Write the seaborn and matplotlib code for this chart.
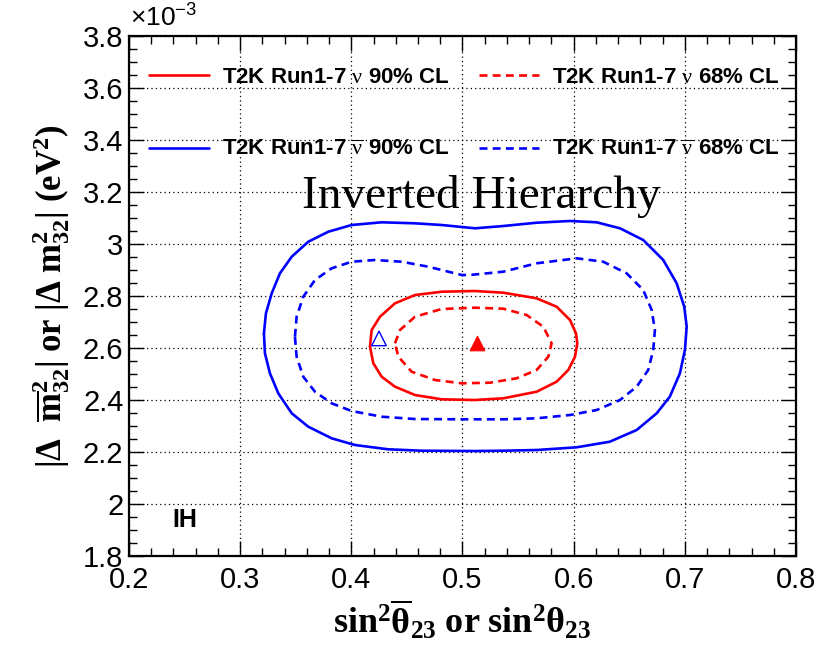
import numpy as np
import pandas as pd
import matplotlib
matplotlib.use("Agg")
import matplotlib.pyplot as plt
from matplotlib.ticker import MultipleLocator, FormatStrFormatter
from matplotlib.lines import Line2D
import seaborn as sns

# contours: x = sin^2(theta23), y = |dm2_32| in 1e-3 eV^2
nubar90_x = [0.3214, 0.3232, 0.3284, 0.3358, 0.3464, 0.3613, 0.3793, 0.4003, 0.4273, 0.4573,
             0.4813, 0.5112, 0.5367, 0.5667, 0.5967, 0.6207, 0.6417, 0.6626, 0.6806, 0.6927,
             0.6995, 0.7017, 0.7001, 0.6956, 0.6865, 0.6747, 0.6567, 0.6325, 0.6027, 0.5667,
             0.5367, 0.5112, 0.4633, 0.4332, 0.4033, 0.3823, 0.3613, 0.3464, 0.3343, 0.3268,
             0.3223]
nubar90_y = [2.6565, 2.7335, 2.8104, 2.8873, 2.9512, 3.0088, 3.0473, 3.0731, 3.0835, 3.0796,
             3.0731, 3.0604, 3.0692, 3.0819, 3.0885, 3.0835, 3.0604, 3.0154, 2.9385, 2.8488,
             2.7588, 2.6819, 2.5923, 2.5027, 2.4127, 2.3488, 2.2846, 2.2396, 2.2181, 2.2077,
             2.2050, 2.2038, 2.2050, 2.2104, 2.2269, 2.2527, 2.2973, 2.3488, 2.4258, 2.5027,
             2.5796]

nubar68_x = [0.3493, 0.3508, 0.3568, 0.3673, 0.3823, 0.4003, 0.4213, 0.4453, 0.4692, 0.4993,
             0.5067, 0.5367, 0.5667, 0.6027, 0.6266, 0.6477, 0.6626, 0.6702, 0.6731, 0.6716,
             0.6671, 0.6567, 0.6417, 0.6207, 0.5967, 0.5667, 0.5367, 0.4993, 0.4573, 0.4273,
             0.4003, 0.3823, 0.3673, 0.3568, 0.3508]
nubar68_y = [2.6435, 2.7204, 2.7973, 2.8615, 2.9065, 2.9319, 2.9385, 2.9319, 2.9127, 2.8808,
             2.8808, 2.8935, 2.9258, 2.9450, 2.9319, 2.8873, 2.8231, 2.7462, 2.6692, 2.5923,
             2.5154, 2.4512, 2.4000, 2.3615, 2.3423, 2.3296, 2.3258, 2.3258, 2.3269, 2.3358,
             2.3577, 2.3873, 2.4319, 2.4896, 2.5665]

nu90_x = [0.4168, 0.4183, 0.4258, 0.4393, 0.4573, 0.4813, 0.5112, 0.5367, 0.5667, 0.5847,
          0.5967, 0.6021, 0.6033, 0.6012, 0.5952, 0.5847, 0.5667, 0.5367, 0.5112, 0.4813,
          0.4573, 0.4393, 0.4273, 0.4198]
nu90_y = [2.6050, 2.6692, 2.7204, 2.7719, 2.8038, 2.8165, 2.8192, 2.8127, 2.7912, 2.7588,
          2.7077, 2.6565, 2.6181, 2.5665, 2.5154, 2.4704, 2.4319, 2.4065, 2.4000, 2.4027,
          2.4192, 2.4512, 2.4896, 2.5412]

nu68_x = [0.4393, 0.4438, 0.4573, 0.4813, 0.5112, 0.5367, 0.5577, 0.5727, 0.5802, 0.5772,
          0.5667, 0.5487, 0.5247, 0.4993, 0.4753, 0.4543, 0.4423]
nu68_y = [2.6181, 2.6692, 2.7204, 2.7500, 2.7550, 2.7512, 2.7269, 2.6819, 2.6181, 2.5665,
          2.5154, 2.4835, 2.4665, 2.4642, 2.4769, 2.5088, 2.5665]

# best fit points
bf_nu = (0.5128, 2.620)
bf_nubar = (0.4249, 2.637)

legend_labels = [r"T2K Run1-7 $\mathrm{\nu}$ 90% CL",
                 r"T2K Run1-7 $\mathrm{\nu}$ 68% CL",
                 r"T2K Run1-7 $\mathrm{\overline{\nu}}$ 90% CL",
                 r"T2K Run1-7 $\mathrm{\overline{\nu}}$ 68% CL"]

sns.set_style("ticks")
plt.rcParams['font.family'] = ['Liberation Sans', 'DejaVu Sans']
plt.rcParams['mathtext.fontset'] = 'custom'
plt.rcParams['mathtext.rm'] = 'Liberation Serif'
plt.rcParams['mathtext.it'] = 'Liberation Serif:italic'
plt.rcParams['mathtext.bf'] = 'Liberation Serif:bold'
plt.rcParams['mathtext.sf'] = 'Liberation Sans'
for k in ['text.color', 'axes.labelcolor', 'xtick.color', 'ytick.color', 'axes.edgecolor']:
    plt.rcParams[k] = 'black'


def closed(xs, ys):
    return pd.DataFrame({"x": list(xs) + [xs[0]], "y": list(ys) + [ys[0]]})


fig = plt.figure(figsize=(8.3, 6.5), dpi=100)
ax = fig.add_axes([0.1554, 0.1446, 0.8036, 0.8])

dash = (0, (3, 2))
lw = 1.9
sns.lineplot(data=closed(nubar90_x, nubar90_y), x="x", y="y", sort=False, estimator=None,
             color="blue", linewidth=lw, ax=ax)
sns.lineplot(data=closed(nubar68_x, nubar68_y), x="x", y="y", sort=False, estimator=None,
             color="blue", linewidth=lw, linestyle=dash, ax=ax)
sns.lineplot(data=closed(nu90_x, nu90_y), x="x", y="y", sort=False, estimator=None,
             color="red", linewidth=lw, ax=ax)
sns.lineplot(data=closed(nu68_x, nu68_y), x="x", y="y", sort=False, estimator=None,
             color="red", linewidth=lw, linestyle=dash, ax=ax)

sns.scatterplot(x=[bf_nu[0]], y=[bf_nu[1]], marker="^", color="red", s=110,
                edgecolor="red", linewidth=0.8, ax=ax, zorder=5)
sns.scatterplot(x=[bf_nubar[0]], y=[bf_nubar[1]], marker="^", facecolor="none",
                edgecolor="blue", s=110, linewidth=1.0, ax=ax, zorder=5)

ax.set_xlim(0.2, 0.8)
ax.set_ylim(1.8, 3.8)
ax.xaxis.set_major_locator(MultipleLocator(0.1))
ax.xaxis.set_minor_locator(MultipleLocator(0.02))
ax.yaxis.set_major_locator(MultipleLocator(0.2))
ax.yaxis.set_minor_locator(MultipleLocator(0.05))
ax.xaxis.set_major_formatter(FormatStrFormatter('%g'))
ax.yaxis.set_major_formatter(FormatStrFormatter('%g'))
ax.tick_params(which='both', direction='in', top=True, right=True, colors='black')
ax.tick_params(which='major', length=11, width=1.0, labelsize=21)
ax.tick_params(which='minor', length=6, width=1.0)
ax.tick_params(axis='x', which='major', pad=7)
ax.tick_params(axis='y', which='major', pad=4)
for sp in ax.spines.values():
    sp.set_visible(True)
    sp.set_linewidth(1.6)
    sp.set_color('black')
ax.grid(True, which='major', linestyle=(0, (1, 2.5)), color='black', linewidth=0.9)
ax.set_axisbelow(True)

ax.set_xlabel(r"$\mathbf{sin^2\overline{\theta}_{23}\ or\ sin^2\theta_{23}}$", fontsize=26, labelpad=4)
ax.set_ylabel(r"$\mathbf{|\Delta\ \ \overline{m}^2_{32}|\ or\ |\Delta\ m^2_{32}|\ (eV^2)}$",
              fontsize=25, labelpad=8)

fig.text(130 / 830, 1 - 18 / 650, r"$\mathsf{\times10^{-3}}$", fontsize=19, ha='left', va='center')

ax.text(0.5166, 3.181, "Inverted Hierarchy", family='Liberation Serif', fontsize=34,
        ha='center', va='center')
ax.text(0.25, 1.938, "IH", fontsize=18, fontweight='bold', ha='center', va='center')

handles = [Line2D([], [], color="red", lw=lw),
           Line2D([], [], color="blue", lw=lw),
           Line2D([], [], color="red", lw=lw, linestyle=dash),
           Line2D([], [], color="blue", lw=lw, linestyle=dash)]
labels = [legend_labels[0], legend_labels[2], legend_labels[1], legend_labels[3]]
leg = ax.legend(handles, labels, ncol=2, loc='upper left', bbox_to_anchor=(0.03, 0.94),
                frameon=False, borderpad=0, borderaxespad=0, handlelength=2.7,
                handletextpad=0.6, columnspacing=1.3, labelspacing=2.3,
                prop={'family': 'Liberation Sans', 'weight': 'bold', 'size': 16})

fig.savefig("out.png", dpi=100)
